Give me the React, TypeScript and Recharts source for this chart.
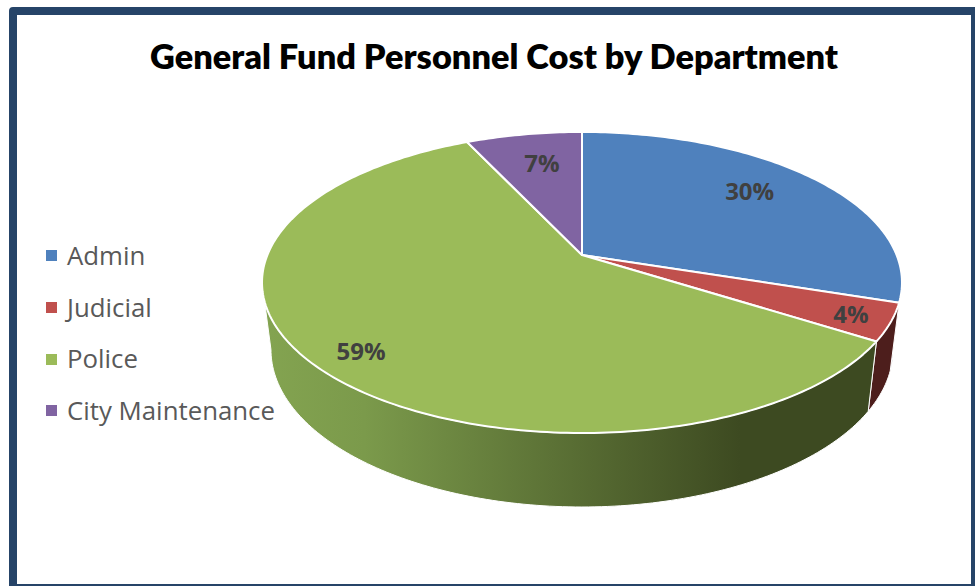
import { Legend, Pie, PieChart } from "recharts"

const departments = ["Admin", "Judicial", "Police", "City Maintenance"]
const shares = [30, 4, 59, 7]
const topColors = ["#4f81bd", "#c0504d", "#9bbb59", "#8064a2"]
const wallColors = ["#27405f", "#4d1e1c", "url(#policeWall)", "#40304f"]
// label placement relative to each slice middle: fraction of the radius, degrees of turn
const labelRadii = [0.755, 0.88, 0.86, 0.735]
const labelTurns = [3.8, 0, 1.8, -1.3]

const data = departments.map((name, i) => ({ name, value: shares[i], fill: topColors[i] }))

// perspective of the tilted disc
const TILT = 0.1827
const RX = 314.6
const RY = 145.5
// rim angle where the disc is widest, the wall outline starts there
const SILHOUETTE = 10.5

function project(cx: number, cy: number, angle: number, r = 1) {
  const rad = (angle * Math.PI) / 180
  const u = r * Math.cos(rad)
  const v = r * Math.sin(rad)
  const w = 1 + TILT * v
  return { x: cx + (RX * u) / w, y: cy - (RY * v) / w }
}

// bottom rim of the wall, slightly narrower than the top rim
function drop(cx: number, p: { x: number; y: number }) {
  return { x: cx + (p.x - cx) * 0.972, y: p.y + 70 + (p.y - 343) * 0.044 }
}

function arc(start: number, end: number) {
  const out: number[] = []
  const steps = Math.max(2, Math.ceil(Math.abs(start - end)))
  for (let i = 0; i <= steps; i++) out.push(start + ((end - start) * i) / steps)
  return out
}

function toPath(points: { x: number; y: number }[]) {
  return "M" + points.map((p) => `${p.x.toFixed(2)},${p.y.toFixed(2)}`).join("L") + "Z"
}

function TopSector(props: any) {
  const { cx, cy, startAngle, endAngle, fill } = props
  const rim = arc(startAngle, endAngle).map((a) => project(cx, cy, a))
  return <path d={toPath([{ x: cx, y: cy }, ...rim])} fill={fill} stroke="#fff" strokeWidth={2} strokeLinejoin="round" />
}

function WallSector(props: any) {
  const { cx, cy, startAngle, endAngle, index } = props
  // only the front part of the rim can be seen
  const from = Math.min(startAngle, -SILHOUETTE)
  const to = Math.max(endAngle, -180 + SILHOUETTE)
  if (from <= to) return <g />
  const rim = arc(from, to).map((a) => project(cx, cy, a))
  const lower = rim.map((p) => drop(cx, p)).reverse()
  return <path d={toPath([...rim, ...lower])} fill={wallColors[index]} stroke="#fff" strokeWidth={1} strokeLinejoin="round" />
}

function PercentLabel(props: any) {
  const { cx, cy, midAngle, percent, index } = props
  const p = project(cx, cy, midAngle + labelTurns[index], labelRadii[index])
  return (
    <text
      x={p.x}
      y={p.y}
      textAnchor="middle"
      dominantBaseline="central"
      fill="#404040"
      fontFamily="Open Sans"
      fontWeight={700}
      fontSize={24}
    >
      {`${Math.round(percent * 100)}%`}
    </text>
  )
}

function LegendList({ payload }: any) {
  const items = (payload || []).filter((item: any) => item.type !== "none")
  return (
    <div style={{ fontFamily: "Open Sans", fontSize: 25.8, color: "#595959" }}>
      {items.map((item: any) => (
        <div key={item.value} style={{ display: "flex", alignItems: "center", height: 51.7, whiteSpace: "nowrap" }}>
          <span style={{ width: 11, height: 11, background: item.color, marginRight: 10 }} />
          <span style={{ position: "relative", top: -1 }}>{item.value}</span>
        </div>
      ))}
    </div>
  )
}

export default function App() {
  return (
    <div style={{ position: "absolute", left: 0, top: 0, width: 975, height: 586, overflow: "hidden", background: "#fff" }}>
      <div
        style={{
          position: "absolute",
          left: 9,
          top: 7,
          width: 970,
          height: 585,
          boxSizing: "border-box",
          border: "8px solid #264468",
          borderRadius: 4,
        }}
      />
      <div
        style={{
          position: "absolute",
          left: 0,
          top: 34,
          width: 988,
          textAlign: "center",
          fontFamily: "Lato",
          fontWeight: 800,
          fontSize: 34.35,
          lineHeight: "44px",
          color: "#000",
        }}
      >
        General Fund Personnel Cost by Department
      </div>
      <PieChart width={975} height={586} margin={{ top: 0, right: 0, bottom: 0, left: 0 }} style={{ position: "absolute", left: 0, top: 0 }}>
        <defs>
          <linearGradient id="policeWall" gradientUnits="userSpaceOnUse" x1={270} y1={0} x2={740} y2={0}>
            <stop offset="0%" stopColor="#83a350" />
            <stop offset="20%" stopColor="#7b9a4b" />
            <stop offset="100%" stopColor="#3d4a21" />
          </linearGradient>
        </defs>
        <Pie
          data={data}
          dataKey="value"
          nameKey="name"
          cx={582}
          cy={255}
          outerRadius={100}
          startAngle={90}
          endAngle={-270}
          legendType="none"
          shape={WallSector}
          isAnimationActive={false}
        />
        <Pie
          data={data}
          dataKey="value"
          nameKey="name"
          cx={582}
          cy={255}
          outerRadius={100}
          startAngle={90}
          endAngle={-270}
          shape={TopSector}
          label={PercentLabel}
          labelLine={false}
          isAnimationActive={false}
        />
        <Legend
          layout="vertical"
          content={LegendList}
          itemSorter={null}
          wrapperStyle={{ position: "absolute", left: 46, top: 230, bottom: "auto", width: 240 }}
        />
      </PieChart>
    </div>
  )
}
